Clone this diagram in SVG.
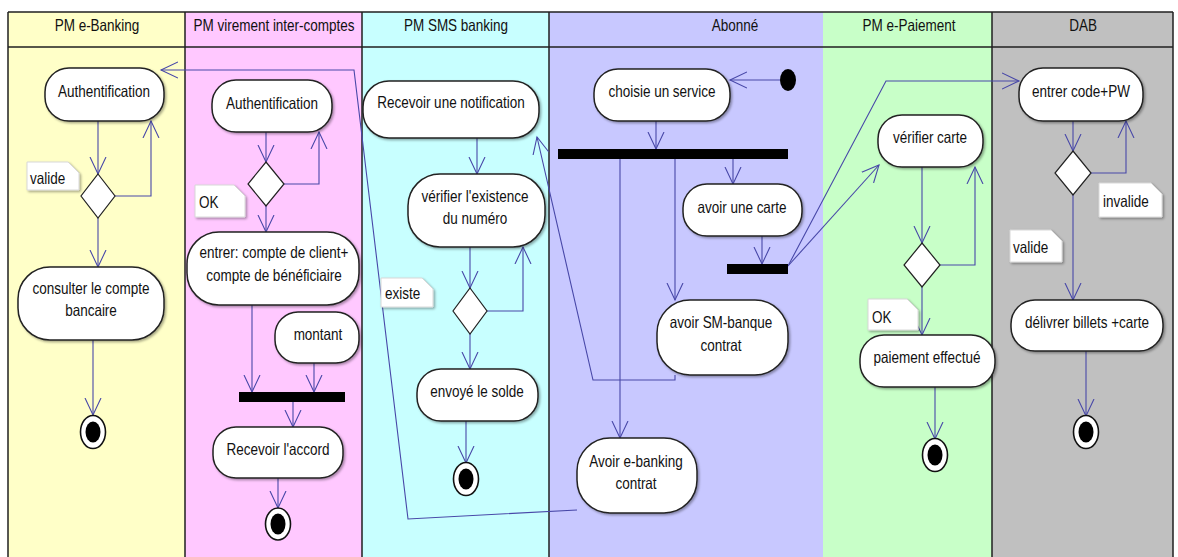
<svg xmlns="http://www.w3.org/2000/svg" width="1178" height="557" viewBox="0 0 1178 557">
<style>
.lane{stroke:none}
.bd{stroke:#202020;stroke-width:1.5;fill:none}
.t{font-family:"Liberation Sans",Arial,sans-serif;font-size:13.5px;fill:#111;text-anchor:middle}
.tl{font-family:"Liberation Sans",Arial,sans-serif;font-size:13.5px;fill:#111;text-anchor:start}
.node{fill:#fff;stroke:#222;stroke-width:1.5;filter:url(#sh)}
.dia{fill:#fff;stroke:#222;stroke-width:1.2}
.bar{fill:#000}
.note{fill:#fff;stroke:#d8d8d8;stroke-width:1;filter:url(#sh)}
.c{fill:none;stroke:#4848a8;stroke-width:1.1;marker-end:url(#ah)}
.fo{fill:#fff;stroke:#111;stroke-width:1.6}
.fi{fill:#000}
</style>
<defs>
<filter id="sh" x="-10%" y="-10%" width="130%" height="140%">
<feDropShadow dx="1.5" dy="1.5" stdDeviation="1" flood-color="#000" flood-opacity="0.35"/>
</filter>
<marker id="ah" markerUnits="userSpaceOnUse" viewBox="0 0 20 18" markerWidth="20" markerHeight="18" refX="17" refY="9" orient="auto">
<path d="M0,1 L17,9 L0,17" fill="none" stroke="#4848a8" stroke-width="1.1"/>
</marker>
</defs>
<rect width="1178" height="557" fill="#fff"/>
<g id="lanes">
<rect class="lane" x="8" y="12" width="177" height="545" fill="#FFFFC8"/>
<rect class="lane" x="185" y="12" width="177" height="545" fill="#FFC8FF"/>
<rect class="lane" x="362" y="12" width="187" height="545" fill="#C8FFFF"/>
<rect class="lane" x="549" y="12" width="274" height="545" fill="#C8C8FF"/>
<rect class="lane" x="823" y="12" width="169" height="545" fill="#C8FFC8"/>
<rect class="lane" x="992" y="12" width="181" height="545" fill="#C0C0C0"/>
<path class="bd" d="M8,12 H1173 M8,47 H1173 M8,12 V557 M185,12 V557 M362,12 V557 M549,12 V557 M992,12 V557 M1173,12 V557"/>
<text class="t" transform="translate(97,31) scale(1,1.25)">PM e-Banking</text>
<text class="t" transform="translate(274,31) scale(1,1.25)">PM virement inter-comptes</text>
<text class="t" transform="translate(456,31) scale(1,1.25)">PM SMS banking</text>
<text class="t" transform="translate(735,31) scale(1,1.25)">Abonné</text>
<text class="t" transform="translate(909,31) scale(1,1.25)">PM e-Paiement</text>
<text class="t" transform="translate(1083,31) scale(1,1.25)">DAB</text>
</g>
<g id="connectors">
<polyline class="c" points="98,118 98,174"/>
<polyline class="c" points="115,196 151,196 151,121"/>
<polyline class="c" points="98,218 98,267"/>
<polyline class="c" points="93,340 93,415"/>
<polyline class="c" points="266,132 266,162"/>
<polyline class="c" points="283,184 319,184 319,132"/>
<polyline class="c" points="266,206 266,232"/>
<polyline class="c" points="252,305 252,392"/>
<polyline class="c" points="314,363 314,392"/>
<polyline class="c" points="293,402 293,427"/>
<polyline class="c" points="278,478 278,508"/>
<polyline class="c" points="477,138 477,174"/>
<polyline class="c" points="470,247 470,288"/>
<polyline class="c" points="487,311 523,311 523,247"/>
<polyline class="c" points="470,334 470,369"/>
<polyline class="c" points="466,421 466,463"/>
<polyline class="c" points="780,80 730,80"/>
<polyline class="c" points="656,121 656,149"/>
<polyline class="c" points="620,159 620,438"/>
<polyline class="c" points="675,159 675,300"/>
<polyline class="c" points="733,159 733,184"/>
<polyline class="c" points="762,236 762,264"/>
<polyline class="c" points="788,266 879,165"/>
<polyline class="c" points="788,266 886,81 1019,81"/>
<polyline class="c" points="675,375 675,380 593,380 537,137"/>
<polyline class="c" points="577,510 408,519 354,70 161,70"/>
<polyline class="c" points="922,167 922,243"/>
<polyline class="c" points="940,265 975,265 975,167"/>
<polyline class="c" points="922,287 922,335"/>
<polyline class="c" points="935,387 935,439"/>
<polyline class="c" points="1073,121 1073,151"/>
<polyline class="c" points="1091,173 1126,173 1126,121"/>
<polyline class="c" points="1073,195 1073,300"/>
<polyline class="c" points="1086,351 1086,416"/>
</g>
<g id="auth1"><rect class="node" x="45" y="68" width="119" height="53" rx="24"/><text class="t" transform="translate(104,97) scale(1,1.25)">Authentification</text></g>
<g id="dec1"><polygon class="dia" points="98,174 115,196 98,218 81,196"/></g>
<g id="note-valide1"><polygon class="note" points="27,162 68,162 79,173 79,190 27,190"/><text class="tl" transform="translate(30,184) scale(1,1.25)">valide</text></g>
<g id="consult"><rect class="node" x="18" y="267" width="146" height="73" rx="32"/><text class="t" transform="translate(91,294) scale(1,1.25)"><tspan x="0" y="0">consulter le compte</tspan><tspan x="0" y="17.6">bancaire</tspan></text></g>
<g id="final1"><ellipse class="fo" cx="93" cy="432" rx="12.5" ry="16.5"/><ellipse class="fi" cx="93" cy="432" rx="7.5" ry="10.5"/></g>

<g id="auth2"><rect class="node" x="212" y="80" width="120" height="52" rx="24"/><text class="t" transform="translate(272,109) scale(1,1.25)">Authentification</text></g>
<g id="dec2"><polygon class="dia" points="266,162 284,184 266,206 248,184"/></g>
<g id="note-ok1"><polygon class="note" points="195,185 234,185 245,196 245,217 195,217"/><text class="tl" transform="translate(199,208) scale(1,1.25)">OK</text></g>
<g id="entrer"><rect class="node" x="187" y="232" width="172" height="73" rx="32"/><text class="t" transform="translate(274,258) scale(1,1.25)"><tspan x="0" y="0">entrer: compte de client+</tspan><tspan x="0" y="18.4">compte de bénéficiaire</tspan></text></g>
<g id="montant"><rect class="node" x="275" y="312" width="84" height="51" rx="23"/><text class="t" transform="translate(318,340) scale(1,1.25)">montant</text></g>
<g id="bar1"><rect class="bar" x="239" y="392" width="106" height="10"/></g>
<g id="accord"><rect class="node" x="213" y="427" width="130" height="51" rx="23"/><text class="t" transform="translate(278,455) scale(1,1.25)">Recevoir l'accord</text></g>
<g id="final2"><ellipse class="fo" cx="278" cy="524" rx="12.5" ry="16"/><ellipse class="fi" cx="278" cy="524" rx="7.5" ry="10.5"/></g>

<g id="notif"><rect class="node" x="363" y="81" width="176" height="57" rx="26"/><text class="t" transform="translate(451,108) scale(1,1.25)">Recevoir une notification</text></g>
<g id="verif"><rect class="node" x="408" y="174" width="137" height="73" rx="32"/><text class="t" transform="translate(475,202) scale(1,1.25)"><tspan x="0" y="0">vérifier l'existence</tspan><tspan x="0" y="17.6">du numéro</tspan></text></g>
<g id="dec3"><polygon class="dia" points="470,288 487,311 470,334 453,311"/></g>
<g id="note-existe"><polygon class="note" points="381,278 422,278 433,289 433,307 381,307"/><text class="tl" transform="translate(385,299) scale(1,1.25)">existe</text></g>
<g id="solde"><rect class="node" x="417" y="369" width="121" height="52" rx="24"/><text class="t" transform="translate(477,397) scale(1,1.25)">envoyé le solde</text></g>
<g id="final3"><ellipse class="fo" cx="466" cy="479" rx="12.5" ry="16.5"/><ellipse class="fi" cx="466" cy="479" rx="7.5" ry="10.5"/></g>

<g id="start"><ellipse cx="788" cy="80" rx="8" ry="11" fill="#000"/></g>
<g id="choisie"><rect class="node" x="594" y="69" width="136" height="52" rx="24"/><text class="t" transform="translate(662,97) scale(1,1.25)">choisie un service</text></g>
<g id="bar2"><rect class="bar" x="558" y="149" width="230" height="10"/></g>
<g id="carte"><rect class="node" x="683" y="184" width="119" height="52" rx="24"/><text class="t" transform="translate(742,213) scale(1,1.25)">avoir une carte</text></g>
<g id="bar3"><rect class="bar" x="727" y="264" width="61" height="10"/></g>
<g id="smbanque"><rect class="node" x="657" y="300" width="131" height="75" rx="33"/><text class="t" transform="translate(721,328) scale(1,1.25)"><tspan x="0" y="0">avoir SM-banque</tspan><tspan x="0" y="18.4">contrat</tspan></text></g>
<g id="ebanking"><rect class="node" x="577" y="438" width="120" height="75" rx="33"/><text class="t" transform="translate(636,467) scale(1,1.25)"><tspan x="0" y="0">Avoir e-banking</tspan><tspan x="0" y="17.6">contrat</tspan></text></g>

<g id="vcarte"><rect class="node" x="878" y="115" width="105" height="52" rx="24"/><text class="t" transform="translate(930,143) scale(1,1.25)">vérifier carte</text></g>
<g id="dec4"><polygon class="dia" points="922,243 940,265 922,287 904,265"/></g>
<g id="note-ok2"><polygon class="note" points="868,299 907,299 918,310 918,330 868,330"/><text class="tl" transform="translate(872,323) scale(1,1.25)">OK</text></g>
<g id="paiement"><rect class="node" x="860" y="335" width="135" height="52" rx="24"/><text class="t" transform="translate(927,363) scale(1,1.25)">paiement effectué</text></g>
<g id="final4"><ellipse class="fo" cx="935" cy="455" rx="12.5" ry="16.5"/><ellipse class="fi" cx="935" cy="455" rx="7.5" ry="10.5"/></g>

<g id="code"><rect class="node" x="1019" y="68" width="124" height="53" rx="24"/><text class="t" transform="translate(1081,97) scale(1,1.25)">entrer code+PW</text></g>
<g id="dec5"><polygon class="dia" points="1073,151 1091,173 1073,195 1055,173"/></g>
<g id="note-invalide"><polygon class="note" points="1099,183 1151,183 1162,194 1162,217 1099,217"/><text class="tl" transform="translate(1103,207) scale(1,1.25)">invalide</text></g>
<g id="note-valide2"><polygon class="note" points="1010,230 1051,230 1062,241 1062,262 1010,262"/><text class="tl" transform="translate(1013,253) scale(1,1.25)">valide</text></g>
<g id="delivrer"><rect class="node" x="1011" y="300" width="152" height="51" rx="24"/><text class="t" transform="translate(1087,328) scale(1,1.25)">délivrer billets +carte</text></g>
<g id="final5"><ellipse class="fo" cx="1086" cy="432" rx="12.5" ry="16.5"/><ellipse class="fi" cx="1086" cy="432" rx="7.5" ry="10.5"/></g>
</svg>
